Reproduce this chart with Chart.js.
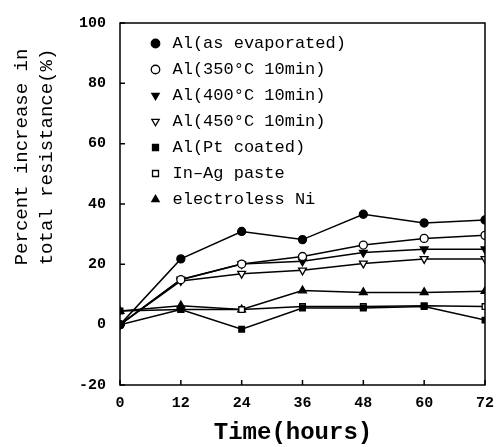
<!DOCTYPE html>
<html>
<head>
<meta charset="utf-8">
<script src="https://cdn.jsdelivr.net/npm/chart.js@4"></script>
<style>
html,body{margin:0;padding:0;background:#fff;}
#wrap{width:503px;height:447px;}
</style>
</head>
<body>
<div id="wrap"><canvas id="canvas-chart-resistencia" width="503" height="447"></canvas></div>
<script>
var horas=[0, 12, 24, 36, 48, 60, 72];
var yTicks=[-20, 0, 20, 40, 60, 80, 100];

var alEvaporado=[0, 21.8, 30.9, 28.2, 36.6, 33.7, 34.7];
var al350=[0, 14.9, 20.1, 22.6, 26.4, 28.6, 29.6];
var al400=[0, 15, 20.1, 21, 23.9, 25, 25];
var al450=[0, 14.5, 16.9, 18, 20.3, 21.8, 21.8];
var alPt=[4.5, 5, -1.5, 5.5, 5.5, 6, 1.5];
var inAg=[0, 5, 5, 6, 6, 6.3, 6];
var niElectroless=[4.5, 6.3, 5, 11.3, 10.7, 10.7, 11.1];

var etiquetas=["Al(as evaporated)","Al(350°C 10min)","Al(400°C 10min)","Al(450°C 10min)","Al(Pt coated)","In\u2013Ag paste","electroless Ni"];

function serie(label, valores, estilo, relleno, rotacion){
	return {
		label: label,
		data: horas.map(function(h, i){ return {x: h, y: valores[i]}; }),
		borderColor: '#000',
		borderWidth: 1.5,
		backgroundColor: relleno ? '#000' : '#fff',
		pointBackgroundColor: relleno ? '#000' : '#fff',
		pointBorderColor: '#000',
		pointBorderWidth: 1.3,
		pointStyle: estilo,
		pointRotation: rotacion || 0,
		pointRadius: estilo=='triangle' ? 4.5 : 4,
		fill: false,
		tension: 0
	};
}

// ticks hacia adentro, marco y titulos
var marcoPlugin={
	id: 'marco',
	afterLayout: function(chart){
		// mover la leyenda dentro del area, como en la figura
		var lg=chart.legend;
		lg.left+=18; lg.right+=18;
		lg.top+=26; lg.bottom+=26;
	},
	afterDraw: function(chart){
		var ctx=chart.ctx, a=chart.chartArea;
		var sx=chart.scales.x, sy=chart.scales.y;
		ctx.save();
		ctx.strokeStyle='#000';
		ctx.lineWidth=1.5;
		ctx.strokeRect(a.left, a.top, a.right-a.left, a.bottom-a.top);
		ctx.beginPath();
		horas.forEach(function(h){
			var px=sx.getPixelForValue(h);
			ctx.moveTo(px, a.bottom); ctx.lineTo(px, a.bottom-5);
		});
		yTicks.forEach(function(v){
			var py=sy.getPixelForValue(v);
			ctx.moveTo(a.left, py); ctx.lineTo(a.left+5, py);
		});
		ctx.stroke();

		ctx.fillStyle='#000';
		ctx.textAlign='center';
		ctx.textBaseline='middle';
		ctx.font='bold 24px "Liberation Mono"';
		ctx.fillText('Time(hours)', 293, 433);

		ctx.translate(34, 157);
		ctx.rotate(-Math.PI/2);
		ctx.font='19px "Liberation Mono"';
		ctx.fillText('Percent increase in', 0, -12);
		ctx.fillText('total resistance(%)', 0, 13);
		ctx.restore();
	}
};

new Chart(document.getElementById('canvas-chart-resistencia').getContext('2d'), {
	type: 'line',
	data: {
		datasets: [
			serie(etiquetas[0], alEvaporado, 'circle', true),
			serie(etiquetas[1], al350, 'circle', false),
			serie(etiquetas[2], al400, 'triangle', true, 180),
			serie(etiquetas[3], al450, 'triangle', false, 180),
			serie(etiquetas[4], alPt, 'rect', true),
			serie(etiquetas[5], inAg, 'rect', false),
			serie(etiquetas[6], niElectroless, 'triangle', true)
		]
	},
	plugins: [marcoPlugin],
	options: {
		responsive: false,
		animation: false,
		layout: {
			padding: {top: 15, right: 13, left: 0, bottom: 0}
		},
		plugins: {
			tooltip: {enabled: false},
			legend: {
				position: 'chartArea',
				align: 'start',
				labels: {
					usePointStyle: true,
					boxWidth: 17,
					boxHeight: 6,
					padding: 9,
					color: '#000',
					font: {family: '"Liberation Mono"', size: 17}
				}
			}
		},
		scales: {
			x: {
				type: 'linear',
				min: 0,
				max: 72,
				afterFit: function(scale){ scale.height=62; },
				afterBuildTicks: function(scale){ scale.ticks=horas.map(function(v){ return {value: v}; }); },
				grid: {display: false, drawTicks: false},
				border: {display: false},
				ticks: {
					padding: 9,
					color: '#000',
					maxRotation: 0,
					font: {family: '"Liberation Mono"', size: 15, weight: 'bold'}
				}
			},
			y: {
				min: -20,
				max: 100,
				afterFit: function(scale){ scale.width=120; },
				afterBuildTicks: function(scale){ scale.ticks=yTicks.map(function(v){ return {value: v}; }); },
				grid: {display: false, drawTicks: false},
				border: {display: false},
				ticks: {
					padding: 14,
					color: '#000',
					font: {family: '"Liberation Mono"', size: 15, weight: 'bold'}
				}
			}
		}
	}
});
</script>
</body>
</html>
